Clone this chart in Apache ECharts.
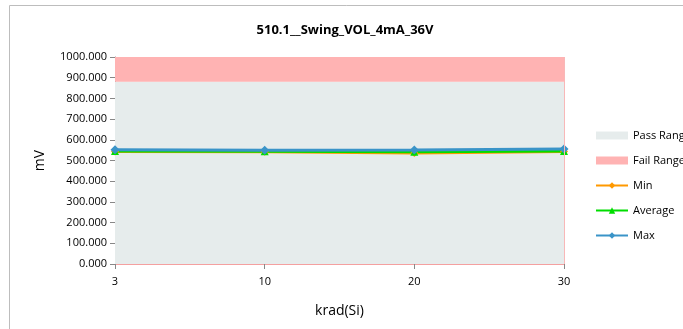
<!DOCTYPE html>
<html><head><meta charset="utf-8">
<script src="https://cdn.jsdelivr.net/npm/echarts@6/dist/echarts.min.js"></script>
<style>html,body{margin:0;padding:0;background:#fff}#c{width:683px;height:329px}</style>
</head><body><div id="c"></div>
<script>
const categories = ['3', '10', '20', '30'];
const passRange = [880, 880, 880, 880];
const failRange = [120, 120, 120, 120];
const minVals = [543, 542, 536, 543];
const avgVals = [546, 545, 542, 546];
const maxVals = [552, 550, 551, 555];
const chart = echarts.init(document.getElementById('c'));
const font = '"Open Sans", "Noto Sans", sans-serif';
chart.setOption({
  animation: false,
  textStyle: {fontFamily: font},
  title: {text: '510.1__Swing_VOL_4mA_36V', left: 340, top: 19, textAlign: 'center',
    textStyle: {fontSize: 13, fontWeight: 'bold', color: '#000', fontFamily: font}},
  graphic: [{type: 'polyline', shape: {points: [[9.5, 329], [9.5, 5.5], [683, 5.5]]},
    style: {stroke: '#bdbdbd', lineWidth: 1, fill: null}}],
  grid: {left: 115, right: 119, top: 57, bottom: 65},
  legend: {orient: 'vertical', left: 595, top: 130, padding: 0, itemGap: 14, itemWidth: 32, itemHeight: 8,
    textStyle: {fontSize: 11, color: '#000', fontFamily: font},
    data: [{name: 'Pass Range', icon: 'rect'}, {name: 'Fail Range', icon: 'rect'}, 'Min', 'Average', 'Max']},
  xAxis: {type: 'category', data: categories, boundaryGap: false,
    name: 'krad(Si)', nameLocation: 'middle', nameGap: 40, nameTextStyle: {fontSize: 14, color: '#000'},
    axisLine: {lineStyle: {color: '#f4a0a0'}},
    axisTick: {alignWithLabel: true, lineStyle: {color: '#888'}},
    axisLabel: {fontSize: 11, color: '#000', margin: 12}},
  yAxis: {type: 'value', min: 0, max: 1000, interval: 100,
    name: 'mV', nameLocation: 'middle', nameGap: 68, nameTextStyle: {fontSize: 14, color: '#000'},
    axisLine: {show: true, lineStyle: {color: '#888'}},
    axisTick: {show: true, lineStyle: {color: '#888'}},
    splitLine: {show: false},
    axisLabel: {fontSize: 11, color: '#000', formatter: v => v.toFixed(3)}},
  series: [
    {name: 'Pass Range', type: 'line', stack: 'r', data: passRange, symbol: 'none',
      lineStyle: {width: 0}, areaStyle: {color: '#e6ecec', opacity: 1}, itemStyle: {color: '#e6ecec'}},
    {name: 'Fail Range', type: 'line', stack: 'r', data: failRange, symbol: 'none',
      lineStyle: {width: 0}, areaStyle: {color: '#ffb3b3', opacity: 1}, itemStyle: {color: '#ffb3b3'},
      markLine: {silent: true, symbol: 'none', label: {show: false}, lineStyle: {color: '#f8b8b8', type: 'solid', width: 1},
        data: [{xAxis: '30'}]}},
    {name: 'Min', type: 'line', data: minVals, symbol: 'diamond', symbolSize: 8,
      lineStyle: {width: 3, color: '#ff9900'}, itemStyle: {color: '#ff9900'}},
    {name: 'Average', type: 'line', data: avgVals, symbol: 'triangle', symbolSize: 8,
      lineStyle: {width: 3, color: '#00dd00'}, itemStyle: {color: '#00dd00'}},
    {name: 'Max', type: 'line', data: maxVals, symbol: 'diamond', symbolSize: 9,
      lineStyle: {width: 3, color: '#3a94c8'}, itemStyle: {color: '#3a94c8'}}
  ]
});
</script></body></html>
